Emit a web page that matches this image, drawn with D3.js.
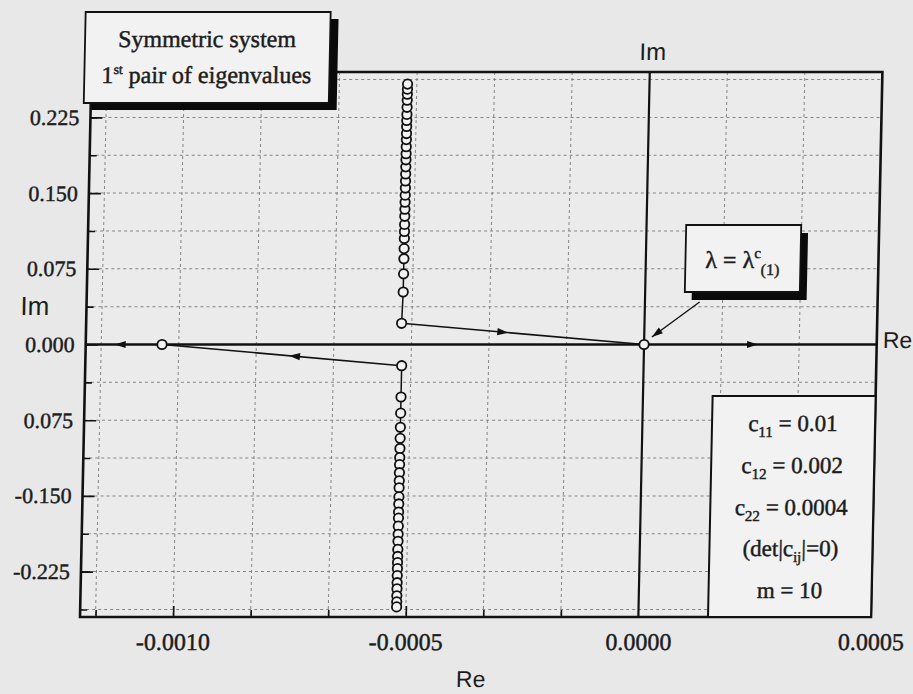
<!DOCTYPE html>
<html>
<head>
<meta charset="utf-8">
<script src="https://cdn.jsdelivr.net/npm/d3@7"></script>
<style>
  body { margin: 0; background: #e8e8e8; }
  svg { display: block; }
  .serif { font-family: "Liberation Serif", "Times New Roman", serif; fill: #1c1c1c; stroke: #1c1c1c; stroke-width: 0.45px; }
  .sans { font-family: "Liberation Sans", Arial, sans-serif; fill: #1c1c1c; }
</style>
</head>
<body>
<div id="chart"></div>
<script>
// tick values and the labels as printed (the -0.075 label has lost its minus)
const xTicks = [-0.0010, -0.0005, 0.0000, 0.0005]
const xTickLabels = ["-0.0010", "-0.0005", "0.0000", "0.0005"]
const yTicks = [0.225, 0.150, 0.075, 0.000, -0.075, -0.150, -0.225]
const yTickLabels = ["0.225", "0.150", "0.075", "0.000", "0.075", "-0.150", "-0.225"]

// upper branch of the eigenvalue pair
const upperRe = [-0.000522, -0.00052, -0.00052, -0.00052, -0.00052, -0.00052, -0.00052, -0.00052,
                 -0.00052, -0.00052, -0.00052, -0.00052, -0.00052, -0.00052, -0.00052, -0.00052,
                 -0.00052, -0.00052, -0.00052, -0.00052, -0.00052, -0.00052, -0.00052, -0.00052,
                 -0.00052, -0.00052, -0.00052, -0.00052, -0.00052]
const upperIm = [0.021, 0.052, 0.070, 0.085, 0.095, 0.105, 0.112, 0.119, 0.127, 0.134,
                 0.141, 0.148, 0.155, 0.162, 0.169, 0.176, 0.183, 0.189, 0.196, 0.203,
                 0.209, 0.216, 0.222, 0.228, 0.235, 0.242, 0.248, 0.253, 0.258]

// lower branch
const lowerRe = [-0.00052, -0.00052, -0.00052, -0.00052, -0.00052, -0.00052, -0.00052, -0.00052,
                 -0.00052, -0.00052, -0.00052, -0.00052, -0.00052, -0.00052, -0.00052, -0.00052,
                 -0.00052, -0.00052, -0.00052, -0.00052, -0.00052, -0.00052, -0.00052, -0.00052,
                 -0.00052, -0.00052, -0.00052, -0.00052]
const lowerIm = [-0.021, -0.052, -0.068, -0.082, -0.093, -0.103, -0.112, -0.119, -0.127, -0.135,
                 -0.142, -0.151, -0.158, -0.166, -0.172, -0.180, -0.188, -0.195, -0.203, -0.210,
                 -0.216, -0.222, -0.229, -0.236, -0.242, -0.249, -0.255, -0.260]

// where the branches land on the real axis
const originPoint = [0.0000, 0.000]
const leftPoint = [-0.001036, 0.000]

// parameter box lines: [text, subscript, rest]
const paramLines = [
    ["c", "11", " = 0.01"],
    ["c", "12", " = 0.002"],
    ["c", "22", " = 0.0004"],
    ["(det|c", "ij", "|=0)"],
    ["m = 10", "", ""]
]

var W = 913, H = 694
var dim = {l: 80, r: 871, t: 72, b: 617}

var x = d3.scaleLinear().domain([-0.0012, 0.0005]).range([dim.l, dim.r])
var y = d3.scaleLinear().domain([-0.27, 0.27]).range([dim.b, dim.t])

var svg = d3.select("#chart").append("svg")
    .attr("width", W).attr("height", H)

svg.append("rect").attr("width", W).attr("height", H).attr("fill", "#e8e8e8")

// the scanned page leans a little, so shear everything about the bottom edge
var g = svg.append("g")
    .attr("transform", "translate(0," + dim.b + ") skewX(-1.2) translate(0," + (-dim.b) + ")")

g.append("rect")
    .attr("x", dim.l).attr("y", dim.t)
    .attr("width", dim.r - dim.l).attr("height", dim.b - dim.t)
    .attr("fill", "#ebebeb")

// grid every third of 0.0005 on Re, every 0.0375 on Im
var gridX = d3.range(-7, 3).map(k => k * 0.0005 / 3).filter(v => Math.abs(v) > 1e-9)
var gridY = d3.range(-7, 8).map(k => k * 0.0375).filter(v => Math.abs(v) > 1e-9)

g.append("g").selectAll("line").data(gridX).enter().append("line")
    .attr("x1", d => x(d)).attr("x2", d => x(d))
    .attr("y1", dim.t).attr("y2", dim.b)
    .attr("stroke", "#858585").attr("stroke-width", 1)
    .attr("stroke-dasharray", "3,3")

g.append("g").selectAll("line").data(gridY).enter().append("line")
    .attr("x1", dim.l).attr("x2", dim.r)
    .attr("y1", d => y(d)).attr("y2", d => y(d))
    .attr("stroke", "#858585").attr("stroke-width", 1)
    .attr("stroke-dasharray", "3,3")

// Re and Im axes through the origin
g.append("line")
    .attr("x1", dim.l).attr("x2", dim.r).attr("y1", y(0)).attr("y2", y(0))
    .attr("stroke", "#111").attr("stroke-width", 2.4)
g.append("line")
    .attr("x1", x(0)).attr("x2", x(0)).attr("y1", dim.t).attr("y2", dim.b)
    .attr("stroke", "#111").attr("stroke-width", 2.2)

// ticks point inward; minor ones have no label
function styleAxis(a, size) {
    a.select(".domain").remove()
    a.selectAll("line").attr("stroke", "#111").attr("stroke-width", 1.6)
    a.selectAll("text").attr("class", "serif").attr("font-size", size).attr("fill", "#1c1c1c")
}

var yMajor = g.append("g").attr("transform", "translate(" + dim.l + ",0)")
    .call(d3.axisLeft(y).tickValues(yTicks).tickSize(-12).tickPadding(11)
        .tickFormat((d, i) => yTickLabels[i]))
styleAxis(yMajor, 22)
var yMinor = g.append("g").attr("transform", "translate(" + dim.l + ",0)")
    .call(d3.axisLeft(y).tickValues(gridY.filter(v => yTicks.indexOf(v) < 0)).tickSize(-7).tickFormat(""))
styleAxis(yMinor, 22)

var xMajor = g.append("g").attr("transform", "translate(0," + dim.b + ")")
    .call(d3.axisBottom(x).tickValues(xTicks.slice(0, 2)).tickSize(-11).tickPadding(16)
        .tickFormat((d, i) => xTickLabels[i]))
styleAxis(xMajor, 24)
var xEnd = g.append("g").attr("transform", "translate(0," + dim.b + ")")
    .call(d3.axisBottom(x).tickValues(xTicks.slice(2)).tickSize(0).tickPadding(16)
        .tickFormat((d, i) => xTickLabels[i + 2]))
styleAxis(xEnd, 24)
var xMinor = g.append("g").attr("transform", "translate(0," + dim.b + ")")
    .call(d3.axisBottom(x).tickValues(gridX.filter(v => Math.abs(v + 0.001) > 1e-9 && Math.abs(v + 0.0005) > 1e-9))
        .tickSize(-7).tickFormat(""))
styleAxis(xMinor, 24)

// frame
g.append("rect")
    .attr("x", dim.l).attr("y", dim.t)
    .attr("width", dim.r - dim.l).attr("height", dim.b - dim.t)
    .attr("fill", "none").attr("stroke", "#111").attr("stroke-width", 2.6)

// branch paths
var upper = upperRe.map((d, i) => [d, upperIm[i]])
var lower = lowerRe.map((d, i) => [d, lowerIm[i]])
var line = d3.line().x(d => x(d[0])).y(d => y(d[1]))

var upperRoute = [upper[0], originPoint, [0.0005, 0]]
var lowerRoute = [lower[0], leftPoint, [-0.0012, 0]]

g.append("path").attr("d", line(upper)).attr("fill", "none").attr("stroke", "#111").attr("stroke-width", 1.5)
g.append("path").attr("d", line(lower)).attr("fill", "none").attr("stroke", "#111").attr("stroke-width", 1.5)
g.append("path").attr("d", line(upperRoute.slice(0, 2))).attr("fill", "none").attr("stroke", "#111").attr("stroke-width", 1.6)
g.append("path").attr("d", line(lowerRoute.slice(0, 2))).attr("fill", "none").attr("stroke", "#111").attr("stroke-width", 1.6)

// arrow heads partway along each leg
function arrowAt(p0, p1, t) {
    var x0 = x(p0[0]), y0 = y(p0[1]), x1 = x(p1[0]), y1 = y(p1[1])
    var px = x0 + (x1 - x0) * t, py = y0 + (y1 - y0) * t
    var ang = Math.atan2(y1 - y0, x1 - x0) * 180 / Math.PI
    g.append("path")
        .attr("d", "M0,0 L-11,-3.6 L-11,3.6 Z")
        .attr("fill", "#111")
        .attr("transform", "translate(" + px + "," + py + ") rotate(" + ang + ")")
}
arrowAt(upperRoute[0], upperRoute[1], 0.44)
arrowAt(upperRoute[1], upperRoute[2], 0.49)
arrowAt(lowerRoute[0], lowerRoute[1], 0.47)
arrowAt(lowerRoute[1], lowerRoute[2], 0.62)

// open circles
g.append("g").selectAll("circle").data(upper.concat(lower, [originPoint, leftPoint])).enter()
    .append("circle")
    .attr("cx", d => x(d[0])).attr("cy", d => y(d[1]))
    .attr("r", 4.7)
    .attr("fill", "#f2f2f2").attr("stroke", "#111").attr("stroke-width", 1.8)

// axis names
g.append("text").attr("class", "sans").attr("font-size", 24)
    .attr("x", 641).attr("y", 60).attr("text-anchor", "middle").text("Im")
g.append("text").attr("class", "sans").attr("font-size", 26)
    .attr("x", 14).attr("y", 315).text("Im")
g.append("text").attr("class", "sans").attr("font-size", 23)
    .attr("x", 877).attr("y", 348).text("Re")
g.append("text").attr("class", "sans").attr("font-size", 23)
    .attr("x", 472).attr("y", 687).attr("text-anchor", "middle").text("Re")

// boxes with a solid drop shadow
function shadowBox(bx, by, bw, bh, ox, oy) {
    g.append("rect").attr("x", bx + ox).attr("y", by + oy).attr("width", bw).attr("height", bh).attr("fill", "#0a0a0a")
    g.append("rect").attr("x", bx).attr("y", by).attr("width", bw).attr("height", bh)
        .attr("fill", "#f2f2f2").attr("stroke", "#111").attr("stroke-width", 1.8)
}
shadowBox(73, 12, 245, 91, 8, 7)
g.append("text").attr("class", "serif").attr("font-size", 24)
    .attr("x", 195).attr("y", 47).attr("text-anchor", "middle").text("Symmetric system")
var t2 = g.append("text").attr("class", "serif").attr("font-size", 24)
    .attr("x", 195).attr("y", 83).attr("text-anchor", "middle")
t2.append("tspan").text("1")
t2.append("tspan").attr("font-size", 14).attr("dy", -9).text("st")
t2.append("tspan").attr("dy", 9).text(" pair of eigenvalues")

// critical value callout
shadowBox(678, 225, 115, 67, 7, 8)
var lt = g.append("text").attr("class", "serif").attr("font-size", 24)
    .attr("x", 735).attr("y", 268).attr("text-anchor", "middle")
lt.append("tspan").text("\u03bb = \u03bb")
lt.append("tspan").attr("font-size", 15).attr("dy", -10).text("c")
lt.append("tspan").attr("font-size", 16).attr("dy", 17).text("(1)")

var a0 = [693, 302], a1 = [646, 337]
g.append("line").attr("x1", a0[0]).attr("y1", a0[1]).attr("x2", a1[0]).attr("y2", a1[1])
    .attr("stroke", "#111").attr("stroke-width", 1.4)
g.append("path").attr("d", "M0,0 L-11,-3.5 L-11,3.5 Z").attr("fill", "#111")
    .attr("transform", "translate(" + a1[0] + "," + a1[1] + ") rotate(" +
        (Math.atan2(a1[1] - a0[1], a1[0] - a0[0]) * 180 / Math.PI) + ")")

// parameter box
g.append("rect").attr("x", 708).attr("y", 396).attr("width", dim.r - 708).attr("height", dim.b - 396)
    .attr("fill", "#f2f2f2").attr("stroke", "#111").attr("stroke-width", 2)
paramLines.forEach(function(p, i) {
    var t = g.append("text").attr("class", "serif").attr("font-size", 23)
        .attr("x", 789).attr("y", 431 + i * 41.8).attr("text-anchor", "middle")
    t.append("tspan").text(p[0])
    if (p[1]) {
        t.append("tspan").attr("font-size", 15).attr("dy", 6).text(p[1])
        t.append("tspan").attr("dy", -6).text(p[2])
    }
})
</script>
</body>
</html>
